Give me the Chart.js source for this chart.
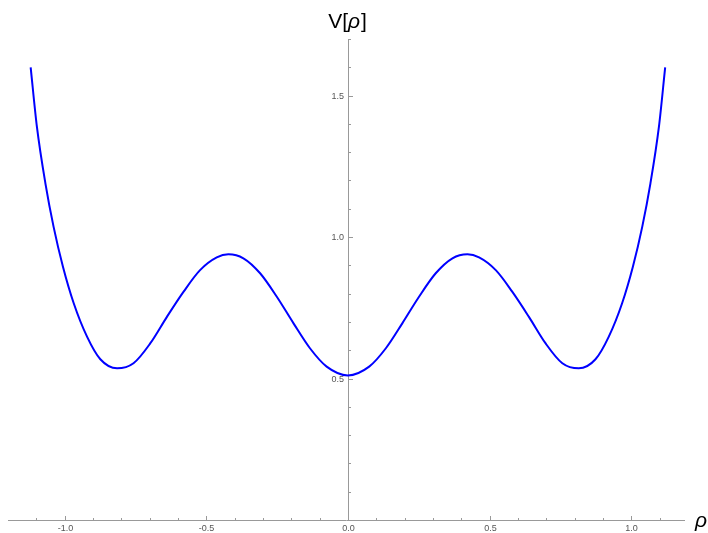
<!DOCTYPE html>
<html>
<head>
<meta charset="utf-8">
<style>
  html, body { margin: 0; padding: 0; background: #fff; }
  #wrap { width: 708px; height: 533px; }
</style>
<script src="https://cdn.jsdelivr.net/npm/chart.js@4.4.1/dist/chart.umd.min.js"></script>
</head>
<body>
<div id="wrap"><canvas id="potential"></canvas></div>
<script>
// V[rho] sampled along the curve (left half, mirrored for rho > 0)
const rhoLeft = [-1.12, -1.098, -1.068, -1.039, -1.006, -0.968, -0.921, -0.874, -0.815, -0.757,
  -0.698, -0.639, -0.580, -0.522, -0.463, -0.422, -0.369, -0.310, -0.251, -0.192, -0.134, -0.075];
const vLeft = [1.60, 1.39, 1.19, 1.036, 0.895, 0.766, 0.648, 0.568, 0.536, 0.554,
  0.624, 0.718, 0.807, 0.883, 0.928, 0.939, 0.925, 0.872, 0.789, 0.695, 0.607, 0.542];
const vCentre = 0.511;

const rho = [...rhoLeft, 0, ...rhoLeft.slice().reverse().map(r => -r)];
const V = [...vLeft, vCentre, ...vLeft.slice().reverse()];

// labelled ticks
const xMajor = [-1, -0.5, 0, 0.5, 1];
const xLabels = ['-1.0', '-0.5', '0.0', '0.5', '1.0'];
const yMajor = [0.5, 1, 1.5];
const yLabels = ['0.5', '1.0', '1.5'];

const AXIS = '#999999';
const LABEL = '#555555';
const FONT = '"Liberation Sans", Arial, sans-serif';

function near(a, b) { return Math.abs(a - b) < 1e-6; }

// axes crossing at the origin, ticks on the inside, Mathematica style
const axesPlugin = {
  id: 'originAxes',
  beforeDatasetsDraw(chart) {
    const { ctx, scales: { x, y } } = chart;
    const x0 = Math.round(x.getPixelForValue(0));
    const y0 = Math.round(y.getPixelForValue(0));
    ctx.save();
    ctx.strokeStyle = AXIS;
    ctx.lineWidth = 1;

    ctx.beginPath();
    ctx.moveTo(x.left, y0 + 0.5);
    ctx.lineTo(x.right, y0 + 0.5);
    ctx.moveTo(x0 + 0.5, y.top);
    ctx.lineTo(x0 + 0.5, y.bottom);
    ctx.stroke();

    ctx.font = '9px ' + FONT;
    ctx.fillStyle = LABEL;

    // x ticks
    ctx.textAlign = 'center';
    ctx.textBaseline = 'top';
    x.ticks.forEach(t => {
      const v = t.value;
      if (!near(Math.round(v * 10) / 10, v)) return;
      const px = Math.round(x.getPixelForValue(v)) + 0.5;
      const idx = xMajor.findIndex(m => near(m, v));
      const len = idx >= 0 ? 4.5 : 2.5;
      ctx.beginPath();
      ctx.moveTo(px, y0 + 0.5);
      ctx.lineTo(px, y0 + 0.5 - len);
      ctx.stroke();
      if (idx >= 0) ctx.fillText(xLabels[idx], px, y0 + 4);
    });

    // y ticks
    ctx.textAlign = 'right';
    ctx.textBaseline = 'middle';
    y.ticks.forEach(t => {
      const v = t.value;
      if (near(v, 0) || !near(Math.round(v * 10) / 10, v)) return;
      const py = Math.round(y.getPixelForValue(v)) + 0.5;
      const idx = yMajor.findIndex(m => near(m, v));
      const len = idx >= 0 ? 4.5 : 2.5;
      ctx.beginPath();
      ctx.moveTo(x0 + 0.5, py);
      ctx.lineTo(x0 + 0.5 + len, py);
      ctx.stroke();
      if (idx >= 0) ctx.fillText(yLabels[idx], x0 - 4, py);
    });

    // axis titles: V[rho] on top, rho at the right end
    ctx.fillStyle = '#000';
    ctx.textBaseline = 'alphabetic';
    ctx.textAlign = 'left';
    const upright = '21px ' + FONT;
    const italic = 'italic 21px ' + FONT;
    ctx.font = italic;
    const wRho = ctx.measureText('\u03c1').width;
    ctx.font = upright;
    const wHead = ctx.measureText('V[').width;
    const wTail = ctx.measureText(']').width;
    const tx = x0 - 1 - (wHead + wRho + wTail) / 2;
    ctx.fillText('V[', tx, 28);
    ctx.fillText(']', tx + wHead + wRho + 1, 28);
    ctx.font = italic;
    ctx.fillText('\u03c1', tx + wHead, 28);
    ctx.fillText('\u03c1', 695, 527);
    ctx.restore();
  }
};

const ctx = document.getElementById('potential').getContext('2d');
new Chart(ctx, {
  type: 'line',
  data: {
    datasets: [{
      data: rho.map((r, i) => ({ x: r, y: V[i] })),
      borderColor: '#0000ff',
      borderWidth: 2,
      pointRadius: 0,
      cubicInterpolationMode: 'monotone',
      fill: false
    }]
  },
  options: {
    responsive: true,
    maintainAspectRatio: false,
    animation: false,
    layout: { padding: { left: 8, right: 23, top: 39, bottom: 13 } },
    scales: {
      x: { type: 'linear', min: -1.2, max: 1.19, display: false,
           ticks: { stepSize: 0.1, includeBounds: false } },
      y: { type: 'linear', min: 0, max: 1.7, display: false,
           ticks: { stepSize: 0.1, includeBounds: false } }
    },
    plugins: {
      legend: { display: false },
      tooltip: { enabled: false }
    }
  },
  plugins: [axesPlugin]
});
</script>
</body>
</html>
